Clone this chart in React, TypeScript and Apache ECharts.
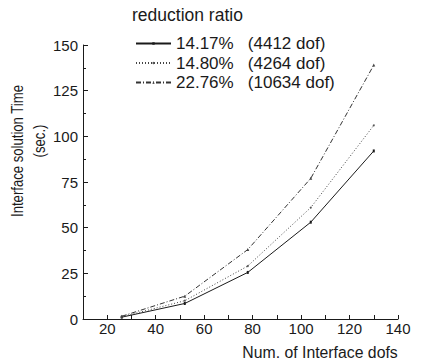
import React, { useEffect, useRef } from "react";
import * as echarts from "echarts";

const xDofs = [26, 52, 78, 104, 130];
const ratio1417 = [1, 8.5, 25.5, 53, 92];
const ratio1480 = [1.2, 10, 29, 61, 106];
const ratio2276 = [1.5, 12.5, 38, 77, 139];
const seriesNames = ["14.17%", "14.80%", "22.76%"];
const seriesDofs = ["(4412 dof)", "(4264 dof)", "(10634 dof)"];
const xTicks = [20, 40, 60, 80, 100, 120, 140];

const FONT = "Liberation Sans, Arial, sans-serif";
const INK = "#1a1a1a";

export default function App() {
  const ref = useRef<HTMLDivElement>(null);
  useEffect(() => {
    if (!ref.current) return;
    const chart = echarts.init(ref.current, undefined, { renderer: "svg" });
    const pair = (ys: number[]) => xDofs.map((x, i) => [x, ys[i]]);
    const dofMap: Record<string, string> = {};
    seriesNames.forEach((n, i) => (dofMap[n] = seriesDofs[i]));
    chart.setOption({
      animation: false,
      backgroundColor: "#fff",
      grid: { left: 83, right: 25, top: 45, bottom: 43 },
      legend: {
        orient: "vertical",
        left: 130,
        top: 30,
        itemWidth: 35,
        itemHeight: 3,
        itemGap: 2.5,
        data: seriesNames,
        formatter: (n: string) => `${n}\u00a0\u00a0\u00a0${dofMap[n]}`,
        textStyle: {
          color: INK,
          fontFamily: FONT,
          fontSize: 17,
          lineHeight: 17,
        },
      },
      graphic: [
        {
          type: "text",
          x: 132,
          y: 15,
          style: {
            text: "reduction ratio",
            fontSize: 17.5,
            fontFamily: FONT,
            fill: INK,
            verticalAlign: "middle",
          },
        },
        {
          type: "text",
          x: 18,
          y: 151,
          rotation: Math.PI / 2,
          scaleX: 0.82,
          style: {
            text: "Interface solution Time",
            fontSize: 16,
            fontFamily: FONT,
            fill: INK,
            align: "center",
            verticalAlign: "middle",
          },
        },
        {
          type: "text",
          x: 40,
          y: 141,
          rotation: Math.PI / 2,
          scaleX: 0.82,
          style: {
            text: "(sec.)",
            fontSize: 16,
            fontFamily: FONT,
            fill: INK,
            align: "center",
            verticalAlign: "middle",
          },
        },
        {
          type: "text",
          x: 320,
          y: 352,
          style: {
            text: "Num. of Interface dofs",
            fontSize: 15.8,
            fontFamily: FONT,
            fill: INK,
            align: "center",
            verticalAlign: "middle",
          },
        },
      ],
      xAxis: {
        type: "value",
        min: 10,
        max: 140,
        interval: 10,
        axisLine: { lineStyle: { color: INK, width: 1 } },
        axisTick: { inside: true, length: 4, lineStyle: { color: INK } },
        splitLine: { show: false },
        axisLabel: {
          color: INK,
          fontSize: 15,
          fontFamily: FONT,
          margin: 2,
          formatter: (v: number) => (xTicks.includes(v) ? String(v) : ""),
        },
      },
      yAxis: {
        type: "value",
        min: 0,
        max: 150,
        interval: 25,
        axisLine: { show: true, lineStyle: { color: INK, width: 1 } },
        axisTick: { show: true, inside: true, length: 5, lineStyle: { color: INK } },
        minorTick: { show: true, splitNumber: 2, length: 3, lineStyle: { color: INK } },
        splitLine: { show: false },
        axisLabel: { color: INK, fontSize: 15, fontFamily: FONT, margin: 5 },
      },
      series: [
        {
          name: seriesNames[0],
          type: "line",
          data: pair(ratio1417),
          symbol: "rect",
          symbolSize: [2, 3],
          itemStyle: { color: INK },
          lineStyle: { color: INK, width: 1, type: "solid" },
        },
        {
          name: seriesNames[1],
          type: "line",
          data: pair(ratio1480),
          symbol: "circle",
          symbolSize: 2,
          itemStyle: { color: "#555" },
          lineStyle: { color: "#444", width: 1, type: [1, 2] },
        },
        {
          name: seriesNames[2],
          type: "line",
          data: pair(ratio2276),
          symbol: "triangle",
          symbolSize: 3,
          itemStyle: { color: "#444" },
          lineStyle: { color: "#333", width: 1, type: [5, 2, 1, 2] },
        },
      ],
    });
    return () => chart.dispose();
  }, []);
  return <div ref={ref} style={{ width: 423, height: 362, position: "absolute", left: 0, top: 0 }} />;
}
